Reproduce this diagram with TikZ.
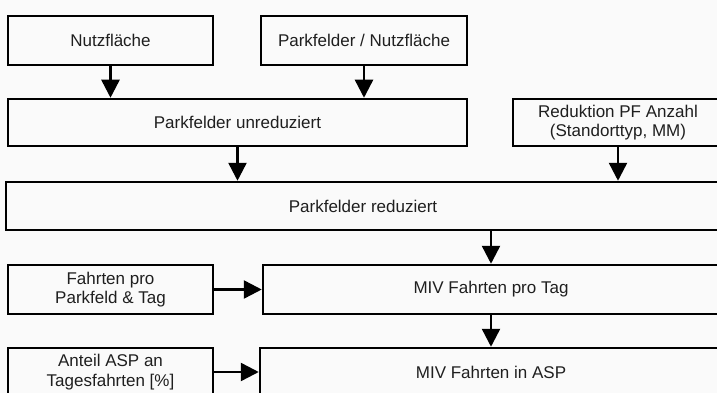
\documentclass[tikz,border=0pt]{standalone}
\usepackage{fontspec}
\setmainfont{Liberation Sans}
\usetikzlibrary{arrows.meta}
\tikzset{
  box/.style={draw, line width=2.5pt, inner sep=0pt, align=center, text=black!88,
    font=\fontsize{17}{19.5}\selectfont},
  flow/.style={line width=2.5pt, -{Triangle[width=18pt,length=18pt]}}
}
\begin{document}
\begin{tikzpicture}[x=1pt,y=-1pt]
        \fill[black!2] (0,0) rectangle (717,393);
        \useasboundingbox (0,0) rectangle (717,393);
        \node[box, minimum width=205pt, minimum height=49pt] (nutz) at (110.5,40.5) {Nutzfläche};
        \node[box, minimum width=206pt, minimum height=49pt] (pfnutz) at (364,40.5) {Parkfelder / Nutzfläche};
        \node[box, minimum width=459pt, minimum height=47pt] (unred) at (237.5,122.5) {Parkfelder unreduziert};
        \node[box, minimum width=210pt, minimum height=47pt] (redu) at (618,122.5) {Reduktion PF Anzahl\\(Standorttyp, MM)};
        \node[box, minimum width=714pt, minimum height=48pt] (red) at (363,206) {Parkfelder reduziert};
        \node[box, minimum width=205pt, minimum height=49pt] (fahrt) at (110.5,289.5) {Fahrten pro\\Parkfeld \& Tag};
        \node[box, minimum width=456pt, minimum height=49pt] (tag) at (491,289.5) {MIV Fahrten pro Tag};
        \node[box, minimum width=205pt, minimum height=48pt] (anteil) at (110.5,372) {Anteil ASP an\\Tagesfahrten [\%]};
        \node[box, minimum width=462pt, minimum height=48pt] (asp) at (491,372) {MIV Fahrten in ASP};
        \draw[flow] (nutz) -- (nutz |- unred.north);
        \draw[flow] (pfnutz) -- (pfnutz |- unred.north);
        \draw[flow] (unred) -- (unred |- red.north);
        \draw[flow] (redu) -- (redu |- red.north);
        \draw[flow] (red.south -| tag) -- (tag);
        \draw[flow] (fahrt) -- (tag);
        \draw[flow] (tag) -- (asp);
        \draw[flow] (anteil) -- (asp);
        \end{tikzpicture}
\end{document}
